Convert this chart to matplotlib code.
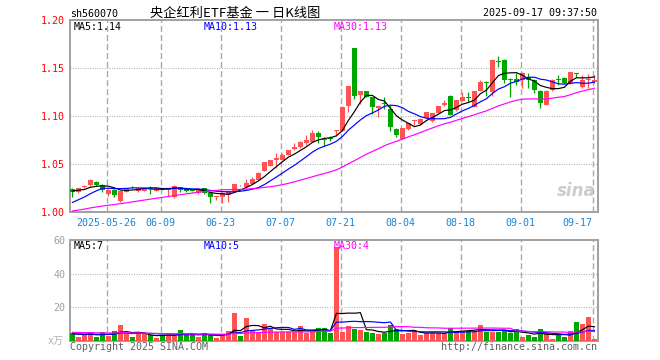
import numpy as np
import pandas as pd
import matplotlib
matplotlib.use('Agg')
import matplotlib.pyplot as plt

plt.rcParams['font.family'] = ['DejaVu Sans Mono', 'Noto Sans CJK SC']

code = 'sh560070'
title = '央企红利ETF基金 一 日K线图'
stamp = '2025-09-17 09:37:50'

tick_pos = [6, 15, 25, 35, 45, 55, 65, 75, 87]
tick_lab = ['2025-05-26', '06-09', '06-23', '07-07', '07-21', '08-04', '08-18', '09-01', '09-17']

opens = [1.0240, 1.0208, 1.0262, 1.0278, 1.0315, 1.0282, 1.0185, 1.0232, 1.0110, 1.0212,
         1.0270, 1.0215, 1.0220, 1.0248, 1.0222, 1.0250, 1.0225, 1.0160, 1.0258, 1.0245,
         1.0218, 1.0195, 1.0245, 1.0201, 1.0155, 1.0153, 1.0172, 1.0222, 1.0280, 1.0262,
         1.0292, 1.0333, 1.0427, 1.0483, 1.0542, 1.0542, 1.0594, 1.0653, 1.0674, 1.0722,
         1.0733, 1.0826, 1.0760, 1.0766, 1.0848, 1.0845, 1.1100, 1.1708, 1.1215, 1.1260,
         1.1200, 1.1087, 1.1130, 1.1070, 1.0868, 1.0764, 1.0861, 1.0945, 1.0920, 1.0980,
         1.0944, 1.1035, 1.1110, 1.1210, 1.1060, 1.1160, 1.1192, 1.1097, 1.1264, 1.1352,
         1.1253, 1.1568, 1.1583, 1.1377, 1.1390, 1.1375, 1.1410, 1.1380, 1.1264, 1.1115,
         1.1270, 1.1377, 1.1400, 1.1340, 1.1446, 1.1305, 1.1378, 1.1357]
closes = [1.0205, 1.0250, 1.0268, 1.0335, 1.0280, 1.0232, 1.0230, 1.0182, 1.0222, 1.0250,
          1.0266, 1.0245, 1.0250, 1.0244, 1.0250, 1.0232, 1.0245, 1.0276, 1.0228, 1.0215,
          1.0215, 1.0240, 1.0197, 1.0153, 1.0162, 1.0195, 1.0215, 1.0292, 1.0277, 1.0302,
          1.0344, 1.0403, 1.0517, 1.0542, 1.0559, 1.0594, 1.0646, 1.0674, 1.0733, 1.0750,
          1.0820, 1.0778, 1.0755, 1.0762, 1.0852, 1.1094, 1.1310, 1.1208, 1.1260, 1.1200,
          1.1094, 1.1100, 1.1126, 1.0885, 1.0806, 1.0875, 1.0927, 1.0950, 1.0972, 1.1040,
          1.1030, 1.1100, 1.1138, 1.1014, 1.1163, 1.1200, 1.1188, 1.1260, 1.1350, 1.1348,
          1.1583, 1.1564, 1.1380, 1.1373, 1.1357, 1.1450, 1.1370, 1.1270, 1.1139, 1.1264,
          1.1380, 1.1373, 1.1340, 1.1455, 1.1442, 1.1375, 1.1382, 1.1380]
highs = [1.0250, 1.0255, 1.0280, 1.0340, 1.0318, 1.0290, 1.0235, 1.0235, 1.0225, 1.0252,
         1.0272, 1.0248, 1.0252, 1.0270, 1.0252, 1.0252, 1.0248, 1.0285, 1.0262, 1.0250,
         1.0222, 1.0245, 1.0248, 1.0205, 1.0167, 1.0212, 1.0218, 1.0295, 1.0283, 1.0345,
         1.0368, 1.0420, 1.0520, 1.0545, 1.0611, 1.0611, 1.0650, 1.0715, 1.0740, 1.0802,
         1.0854, 1.0847, 1.0785, 1.0788, 1.0854, 1.1100, 1.1315, 1.1712, 1.1262, 1.1262,
         1.1202, 1.1102, 1.1200, 1.1110, 1.0870, 1.0878, 1.0930, 1.0955, 1.0975, 1.1045,
         1.1035, 1.1105, 1.1163, 1.1215, 1.1168, 1.1253, 1.1253, 1.1265, 1.1375, 1.1365,
         1.1590, 1.1625, 1.1590, 1.1392, 1.1444, 1.1455, 1.1444, 1.1385, 1.1268, 1.1268,
         1.1385, 1.1427, 1.1405, 1.1460, 1.1448, 1.1427, 1.1434, 1.1427]
lows = [1.0160, 1.0195, 1.0255, 1.0272, 1.0275, 1.0210, 1.0165, 1.0160, 1.0108, 1.0205,
        1.0255, 1.0205, 1.0215, 1.0190, 1.0218, 1.0228, 1.0165, 1.0150, 1.0205, 1.0205,
        1.0210, 1.0190, 1.0185, 1.0090, 1.0130, 1.0097, 1.0107, 1.0220, 1.0275, 1.0255,
        1.0290, 1.0330, 1.0425, 1.0480, 1.0455, 1.0540, 1.0590, 1.0650, 1.0670, 1.0698,
        1.0730, 1.0715, 1.0690, 1.0740, 1.0788, 1.0840, 1.1040, 1.1180, 1.1128, 1.1195,
        1.1024, 1.0990, 1.1076, 1.0840, 1.0780, 1.0760, 1.0858, 1.0903, 1.0903, 1.0975,
        1.0940, 1.1030, 1.1105, 1.1010, 1.1055, 1.1155, 1.1149, 1.1090, 1.1260, 1.1210,
        1.1212, 1.1507, 1.1340, 1.1200, 1.1323, 1.1290, 1.1289, 1.1236, 1.1080, 1.1110,
        1.1265, 1.1323, 1.1335, 1.1335, 1.1410, 1.1289, 1.1289, 1.1340]
# volume, 万手
vols = [4.4, 2.4, 3.4, 5.0, 2.4, 5.0, 3.0, 5.8, 9.3, 3.8,
        2.4, 3.8, 3.8, 3.4, 1.8, 3.0, 4.4, 3.0, 6.4, 3.4,
        3.4, 2.4, 4.8, 3.8, 1.4, 3.4, 5.8, 16.7, 2.8, 13.7,
        6.4, 5.4, 9.9, 7.8, 5.4, 5.4, 5.4, 5.4, 8.7, 4.4,
        5.8, 7.4, 7.4, 4.8, 56.0, 5.4, 8.7, 7.0, 6.4, 5.2,
        4.6, 4.2, 4.8, 9.3, 7.0, 4.2, 4.8, 5.4, 3.6, 4.8,
        4.8, 4.4, 4.4, 7.4, 6.0, 6.0, 6.0, 6.0, 9.3, 5.4,
        5.4, 5.4, 6.0, 4.4, 7.0, 2.4, 3.4, 2.4, 7.0, 4.4,
        1.0, 3.4, 2.4, 5.8, 11.1, 9.9, 14.1, 1.0]

# 29 sessions before the window, only used to feed the moving averages
pre_close = [0.995, 0.997, 0.996, 0.998, 0.997, 0.995, 0.996, 0.997, 0.998, 0.996,
             0.997, 0.996, 0.995, 0.997, 0.998, 0.997, 0.996, 0.997, 0.996, 0.997,
             0.997, 0.998, 0.999, 0.998, 0.998, 1.021, 1.023, 1.022, 1.023]
pre_vol = [6.0, 5.0, 5.5, 4.8, 6.2, 5.1, 5.6, 4.9, 5.8, 5.3,
           5.0, 5.7, 5.2, 5.5, 4.9, 6.0, 5.3, 5.4, 5.6, 5.2,
           4.0, 4.5, 3.9, 4.4, 4.2, 4.1, 4.3, 3.9, 4.3]
# legend values as printed on the chart
price_ma_text = ['1.14', '1.13', '1.13']
vol_ma_text = ['7', '5', '4']

RED = '#ff5252'
GREEN = '#00a600'
MA_COLORS = ['black', '#0000ff', '#ff00ff']
FS = 7.2

n = len(closes)
x = np.arange(n)
o = np.array(opens)
c = np.array(closes)
close_all = pd.Series(pre_close + closes)
vol_all = pd.Series(pre_vol + vols)
ma = [close_all.rolling(w).mean().values[-n:] for w in (5, 10, 30)]
vma = [vol_all.rolling(w).mean().values[-n:] for w in (5, 10, 30)]
colors = np.where(c >= o, RED, GREEN)


def px(xp, yp):
    return xp / 660, 1 - yp / 360


fig = plt.figure(figsize=(6.6, 3.6), dpi=100)
ax = fig.add_axes([70 / 660, 1 - 212 / 360, 528 / 660, 192 / 360])
axv = fig.add_axes([70 / 660, 1 - 340.7 / 360, 528 / 660, 100.7 / 360])

# candles
ax.vlines(x, lows, highs, colors=colors, lw=0.9, zorder=3)
body_lo = np.minimum(o, c)
body_h = np.maximum(np.abs(c - o), 0.0009)
ax.bar(x, body_h, bottom=body_lo, width=0.8, color=colors, lw=0, zorder=3)
for m, col in zip(ma, MA_COLORS):
    ax.plot(x, m, color=col, lw=0.85, zorder=4)

# volume
axv.bar(x, vols, width=0.8, color=colors, lw=0, zorder=3)
for m, col in zip(vma, MA_COLORS):
    axv.plot(x, m, color=col, lw=0.85, zorder=4)

grid_x = [p - 0.3 for p in tick_pos]
for a in (ax, axv):
    a.set_xlim(-0.4, n - 0.4)
    for g in grid_x:
        a.axvline(g, color='#aaaaaa', lw=1, ls=(0, (4.3, 2.2)), zorder=1)
    for s in a.spines.values():
        s.set_color('#a0a0a0')
        s.set_linewidth(1.4)
    a.tick_params(length=0)

ax.set_ylim(1.00, 1.20)
for yv in [1.05, 1.10, 1.15]:
    ax.axhline(yv, color='#aaaaaa', lw=0.8, ls=(0, (0.8, 1.4)), zorder=1)
ax.set_yticks([1.00, 1.05, 1.10, 1.15, 1.20])
ax.set_yticklabels(['%.2f' % v for v in [1.00, 1.05, 1.10, 1.15, 1.20]],
                   color='#ff0000', fontsize=FS)
ax.tick_params(axis='y', pad=3.5)
ax.set_xticks(grid_x)
ax.set_xticklabels(tick_lab, color='#1a85d6', fontsize=FS)
ax.get_xticklabels()[-1].set_ha('right')
ax.tick_params(axis='x', pad=4)

axv.set_ylim(0, 60)
for yv in [20, 40]:
    axv.axhline(yv, color='#aaaaaa', lw=0.8, ls=(0, (0.8, 1.4)), zorder=1)
axv.set_yticks([20, 40, 60])
axv.set_yticklabels(['20', '40', '60'], color='#a0a0a0', fontsize=FS)
axv.tick_params(axis='y', pad=3.5)
axv.set_xticks([])

# sina watermark
ax.text(0.995, 0.06, 'sina', transform=ax.transAxes, ha='right', va='bottom',
        fontsize=12, fontstyle='italic', fontweight='bold', color='#cccccc',
        family='DejaVu Sans', zorder=2)

# header and legends
fig.text(*px(70, 14), code, fontsize=FS, ha='left', va='center')
fig.text(*px(150, 13), title, fontsize=9.5, ha='left', va='center',
         family=['Noto Sans CJK SC', 'DejaVu Sans'])
fig.text(*px(597, 13), stamp, fontsize=FS, ha='right', va='center')

names = ['MA5', 'MA10', 'MA30']
xs = [74, 204, 334]
for name, t, col, xp in zip(names, price_ma_text, MA_COLORS, xs):
    fig.text(*px(xp, 26.5), '%s:%s' % (name, t), color=col, fontsize=FS,
             ha='left', va='center')
for name, t, col, xp in zip(names, vol_ma_text, MA_COLORS, xs):
    fig.text(*px(xp, 246), '%s:%s' % (name, t), color=col, fontsize=FS,
             ha='left', va='center')

fig.text(*px(64, 340.5), 'x万', color='#b0b0b0', fontsize=FS, ha='right', va='center')
fig.text(*px(70, 346.5), 'Copyright 2025 SINA.COM', color='#606060', fontsize=FS,
         ha='left', va='center')
fig.text(*px(597, 346.5), 'http://finance.sina.com.cn', color='#606060', fontsize=FS,
         ha='right', va='center')

fig.savefig('out.png', dpi=100)
